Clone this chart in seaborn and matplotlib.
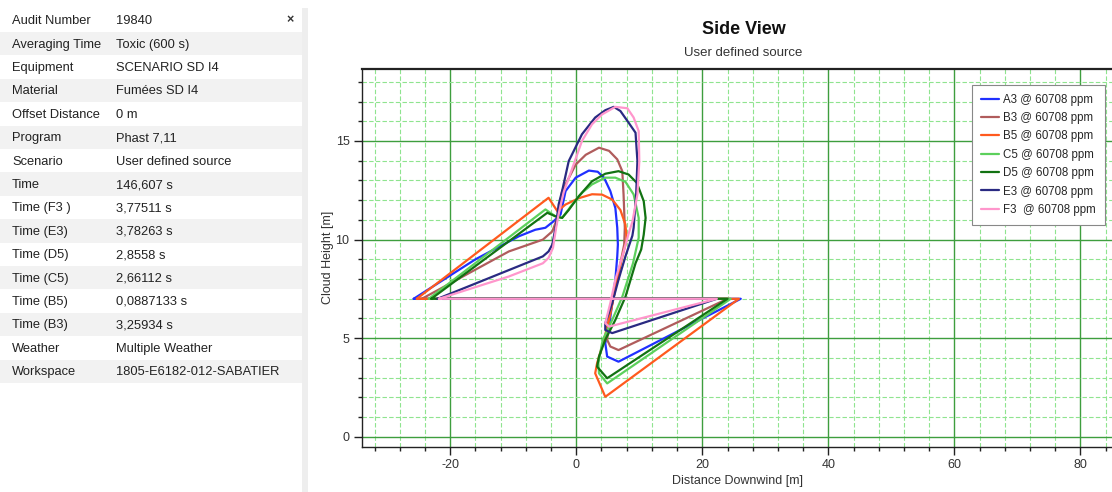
import numpy as np
import pandas as pd
import matplotlib
matplotlib.use("Agg")
import matplotlib.pyplot as plt
from matplotlib.ticker import MultipleLocator
from matplotlib.patches import Rectangle
import seaborn as sns

# ---------------- data ----------------
table_labels = ["Audit Number", "Averaging Time", "Equipment", "Material", "Offset Distance",
                "Program", "Scenario", "Time", "Time (F3 )", "Time (E3)", "Time (D5)",
                "Time (C5)", "Time (B5)", "Time (B3)", "Weather", "Workspace"]
table_values = ["19840", "Toxic (600 s)", "SCENARIO SD I4", "Fumées SD I4", "0 m",
                "Phast 7,11", "User defined source", "146,607 s", "3,77511 s", "3,78263 s",
                "2,8558 s", "2,66112 s", "0,0887133 s", "3,25934 s", "Multiple Weather",
                "1805-E6182-012-SABATIER"]

series_names = ["A3 @ 60708 ppm", "B3 @ 60708 ppm", "B5 @ 60708 ppm", "C5 @ 60708 ppm",
                "D5 @ 60708 ppm", "E3 @ 60708 ppm", "F3  @ 60708 ppm"]
series_colors = ["#2030ff", "#b05c5c", "#ff5a1e", "#5cd05c", "#127212", "#2a2a82", "#ff96cc"]

a3_x = [-25.8, -16.0, -9.1, -6.5, -4.9, -3.6, -2.5, -1.7, -0.1, 2.0, 3.4, 4.4, 5.4, 6.2, 6.5, 6.6,
        6.5, 6.2, 5.7, 5.2, 4.6, 4.9, 6.7, 26.1, -25.8]
a3_y = [7.0, 9.0, 10.17, 10.5, 10.6, 10.93, 11.27, 12.46, 13.14, 13.5, 13.44, 13.14, 12.46, 11.6, 10.6, 9.75,
        9.15, 7.97, 6.78, 5.59, 4.75, 4.07, 3.81, 7.0, 7.0]

b3_x = [-24.5, -10.7, -5.3, -3.8, -3.0, -2.25, -0.1, 1.5, 3.6, 5.2, 6.5, 7.3, 7.5, 7.7, 7.6,
        7.0, 5.95, 5.2, 4.9, 5.4, 6.7, 24.0, -24.5]
b3_y = [7.0, 9.4, 10.0, 10.42, 11.1, 12.46, 13.8, 14.3, 14.66, 14.5, 14.07, 13.47, 12.3, 10.6, 9.75,
        8.8, 7.1, 5.93, 4.92, 4.58, 4.4, 7.0, 7.0]

b5_x = [-25.3, -4.4, -3.0, -1.7, 0.4, 2.5, 4.1, 5.7, 7.0, 7.8, 8.0, 7.2, 6.5, 5.4, 4.4, 3.3,
        3.0, 4.6, 25.8, -25.3]
b5_y = [7.0, 12.12, 11.44, 11.78, 12.1, 12.3, 12.28, 12.03, 11.5, 10.76, 10.0, 9.0, 7.97, 6.27, 4.92, 3.73,
        3.22, 2.03, 7.0, 7.0]

c5_x = [-23.4, -4.9, -3.3, -2.25, -0.6, 1.0, 2.5, 4.6, 6.2, 7.8, 9.1, 9.9, 9.9, 9.0, 7.3, 5.7,
        4.2, 3.5, 3.6, 4.9, 24.5, -23.4]
c5_y = [7.0, 11.53, 11.18, 11.1, 11.8, 12.4, 12.8, 13.14, 13.14, 12.93, 12.29, 11.1, 10.09, 8.8, 7.1, 5.93,
        4.92, 3.73, 3.22, 2.71, 7.0, 7.0]

d5_x = [-23.0, -4.6, -3.3, -2.25, -1.2, 0.4, 2.5, 4.6, 6.7, 8.3, 9.6, 10.7, 11.0, 10.7, 10.3,
        9.4, 7.8, 6.2, 4.6, 3.6, 3.3, 4.9, 24.0, -23.0]
d5_y = [7.0, 11.36, 11.18, 11.1, 11.5, 12.2, 12.96, 13.34, 13.47, 13.3, 12.88, 11.95, 11.1, 10.25, 9.5,
        8.8, 7.1, 5.93, 4.92, 4.07, 3.56, 2.97, 7.0, 7.0]

e3_x = [-22.0, -5.3, -4.4, -3.8, -3.2, -2.8, -2.25, -1.2, 0.9, 3.0, 4.6, 5.95, 7.0, 8.3, 9.4,
        9.7, 9.5, 9.1, 8.9, 7.8, 6.7, 5.7, 4.6, 4.6, 5.7, 22.3, -22.0]
e3_y = [7.0, 9.15, 9.4, 9.75, 10.76, 11.78, 12.46, 13.98, 15.34, 16.19, 16.56, 16.73, 16.52, 15.93, 15.42,
        13.98, 12.29, 10.6, 10.2, 9.15, 7.97, 6.78, 5.76, 5.42, 5.26, 7.0, 7.0]

f3_x = [-21.8, -10.7, -5.3, -4.4, -3.7, -3.2, -2.8, -2.0, -0.6, 0.9, 2.5, 4.1, 6.2, 8.1, 9.1,
        9.9, 10.0, 9.7, 8.9, 8.3, 7.3, 6.2, 5.4, 4.6, 5.2, 22.3, -21.8]
f3_y = [7.0, 8.13, 8.8, 9.07, 9.58, 10.6, 11.3, 12.4, 13.65, 15.0, 15.85, 16.35, 16.73, 16.66, 16.19,
        15.5, 13.98, 12.29, 10.9, 10.3, 9.15, 7.97, 6.78, 5.76, 5.59, 7.0, 7.0]

series_x = [a3_x, b3_x, b5_x, c5_x, d5_x, e3_x, f3_x]
series_y = [a3_y, b3_y, b5_y, c5_y, d5_y, e3_y, f3_y]

x_major = [-20, 0, 20, 40, 60, 80]
y_major = [0, 5, 10, 15]

# ---------------- build frame ----------------
frames = []
for name, xs, ys in zip(series_names, series_x, series_y):
    frames.append(pd.DataFrame({"series": name, "order": np.arange(len(xs)), "x": xs, "y": ys}))
df = pd.concat(frames, ignore_index=True)

sns.set_theme(style="white")
plt.rcParams["font.family"] = ["Liberation Sans", "DejaVu Sans"]
plt.rcParams["axes.unicode_minus"] = False

W, H = 1112, 492
fig = plt.figure(figsize=(W / 100, H / 100), dpi=100)
fig.patch.set_facecolor("white")

# ---------------- left property table ----------------
axt = fig.add_axes([0, 0, 310 / W, 1])
axt.set_xlim(0, 310)
axt.set_ylim(H, 0)
axt.axis("off")
row_h = 23.4
top0 = 8.5
for i, (lab, val) in enumerate(zip(table_labels, table_values)):
    y0 = top0 + i * row_h
    col = "#ffffff" if i % 2 == 0 else "#f2f2f2"
    axt.add_patch(Rectangle((0, y0), 302, row_h, facecolor=col, edgecolor="none"))
    axt.text(12, y0 + row_h / 2 + 1, lab, fontsize=9.3, color="#222222", va="center", ha="left")
    axt.text(116, y0 + row_h / 2 + 1, val, fontsize=9.3, color="#222222", va="center", ha="left")
axt.add_patch(Rectangle((302, 8), 6, H - 8, facecolor="#eeeeee", edgecolor="none"))
axt.text(290, top0 + row_h / 2, "×", fontsize=9, color="#333333", fontweight="bold",
         va="center", ha="center")

# ---------------- main plot ----------------
ax_left, ax_right = 362, 1112
ax_top, ax_bot = 69, 446.7
ax = fig.add_axes([ax_left / W, 1 - ax_bot / H, (ax_right - ax_left) / W, (ax_bot - ax_top) / H])

sns.lineplot(data=df, x="x", y="y", hue="series", hue_order=series_names,
             palette=dict(zip(series_names, series_colors)), sort=False, estimator=None,
             linewidth=1.6, ax=ax)

ax.set_xlim(-34, 85)
ax.set_ylim(-0.5, 18.65)
ax.set_xticks(x_major)
ax.set_yticks(y_major)
ax.xaxis.set_minor_locator(MultipleLocator(4))
ax.yaxis.set_minor_locator(MultipleLocator(1))
ax.set_axisbelow(True)
ax.grid(which="minor", color="#8fe48f", linestyle=(0, (4, 2)), linewidth=0.8)
ax.grid(which="major", color="#3e9e3e", linestyle="-", linewidth=1.0)

for s in ["left", "bottom", "top"]:
    ax.spines[s].set_visible(True)
    ax.spines[s].set_color("#222222")
ax.spines["top"].set_linewidth(1.6)
ax.spines["left"].set_linewidth(1.0)
ax.spines["bottom"].set_linewidth(1.0)
ax.spines["right"].set_visible(False)

ax.tick_params(which="major", direction="out", length=6, width=1, color="#222222",
               labelsize=9, labelcolor="#333333", left=True, bottom=True, pad=3)
ax.tick_params(which="minor", direction="out", length=3, width=1, color="#222222",
               left=True, bottom=True)

ax.set_xlabel("Distance Downwind [m]", fontsize=9, color="#333333", labelpad=3)
ax.set_ylabel("Cloud Height [m]", fontsize=9, color="#333333", labelpad=1)

fig.text(0.669, 1 - 30 / H, "Side View", fontsize=13, fontweight="bold", color="#111111",
         ha="center", va="center")
fig.text(0.668, 1 - 53 / H, "User defined source", fontsize=9.5, color="#333333",
         ha="center", va="center")

handles, labels = ax.get_legend_handles_labels()
leg = ax.legend(handles, labels, loc="upper left", bbox_to_anchor=(0.806, 0.974),
                fontsize=8.3, frameon=True, fancybox=False, framealpha=1,
                edgecolor="#888888", handlelength=1.5, handletextpad=0.4,
                labelspacing=0.55, borderpad=0.8)
leg.get_frame().set_linewidth(0.8)
for line in leg.get_lines():
    line.set_linewidth(1.6)

fig.savefig("out.png", dpi=100, facecolor="white")
